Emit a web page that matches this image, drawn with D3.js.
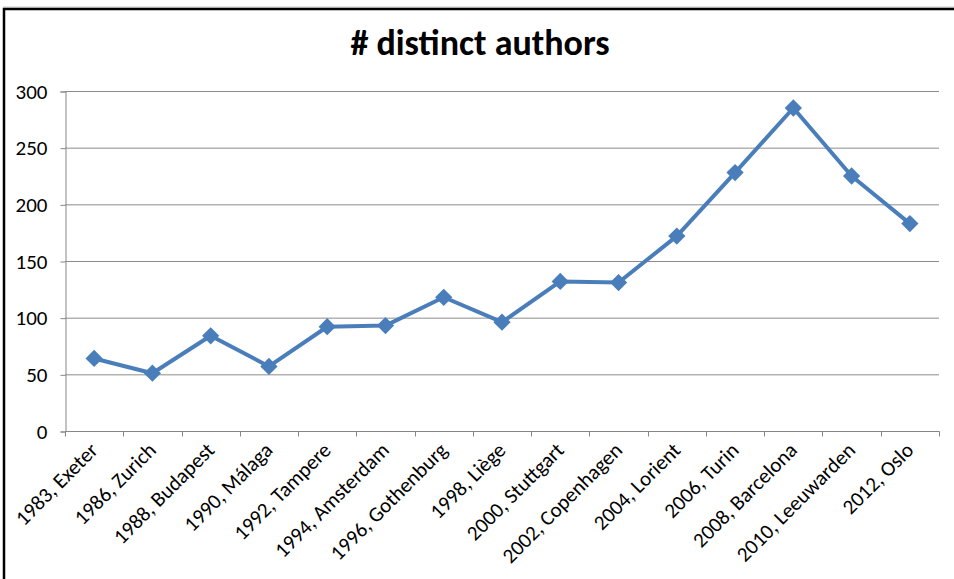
<!DOCTYPE html>
<html>
<head>
<meta charset="utf-8">
<script src="https://cdn.jsdelivr.net/npm/d3@7"></script>
<style>
  body { margin: 0; background: #fff; }
  text { font-family: Carlito, Lato, "Open Sans", sans-serif; fill: #000; }
  .grid line { stroke: #8c8c8c; stroke-width: 1; }
  .axis path, .axis line { stroke: #868686; }
</style>
</head>
<body>
<div id="chart"></div>
<script>
  // data
  var labels = ["1983, Exeter", "1986, Zurich", "1988, Budapest", "1990, Málaga",
    "1992, Tampere", "1994, Amsterdam", "1996, Gothenburg", "1998, Liège",
    "2000, Stuttgart", "2002, Copenhagen", "2004, Lorient", "2006, Turin",
    "2008, Barcelona", "2010, Leeuwarden", "2012, Oslo"];
  var authors = [64, 51, 84, 57, 92, 93, 118, 96, 132, 131, 172, 228, 285, 225, 183];
  var yTicks = [0, 50, 100, 150, 200, 250, 300];

  var W = 954, H = 579;
  var margin = {top: 91, left: 65, right: 15, bottom: 148};
  var width = W - margin.left - margin.right,
      height = H - margin.top - margin.bottom;

  var svg = d3.select("#chart").append("svg")
    .attr("width", W).attr("height", H);

  // chart frame
  svg.append("line").attr("x1", 3).attr("x2", W).attr("y1", 7).attr("y2", 7)
    .attr("stroke", "#c8c8c8").attr("stroke-width", 1);
  svg.append("path")
    .attr("d", "M4," + H + "V9H" + W)
    .attr("fill", "none").attr("stroke", "#000").attr("stroke-width", 2.5);

  svg.append("text")
    .attr("x", 480).attr("y", 55)
    .attr("text-anchor", "middle")
    .style("font-size", "36px").style("font-weight", "bold")
    .text("# distinct authors");

  var g = svg.append("g")
    .attr("transform", "translate(" + margin.left + "," + margin.top + ")");

  var x = d3.scaleBand().domain(labels).range([0, width]);
  var y = d3.scaleLinear().domain([0, 300]).range([height, 0]);

  // gridlines
  g.append("g").attr("class", "grid")
    .selectAll("line")
    .data(yTicks.slice(1))
    .enter().append("line")
    .attr("x1", 0).attr("x2", width)
    .attr("y1", function(d) { return y(d) + 0.5; })
    .attr("y2", function(d) { return y(d) + 0.5; });

  // y axis
  var yAxis = g.append("g").attr("class", "axis")
    .attr("transform", "translate(0.5,0.5)")
    .call(d3.axisLeft(y).tickValues(yTicks).tickSize(5).tickPadding(13));
  yAxis.selectAll("text").style("font-size", "21px");

  // x axis, ticks at band edges
  var xg = g.append("g").attr("class", "axis")
    .attr("transform", "translate(0," + (height + 0.5) + ")");
  xg.append("line").attr("x1", 0).attr("x2", width + 0.5)
    .attr("stroke", "#868686");
  xg.selectAll(".tk")
    .data(labels.concat(["end"]))
    .enter().append("line")
    .attr("class", "tk")
    .attr("x1", function(d, i) { return Math.round(i * x.step()) + 0.5; })
    .attr("x2", function(d, i) { return Math.round(i * x.step()) + 0.5; })
    .attr("y1", 0).attr("y2", 5)
    .attr("stroke", "#868686");
  xg.selectAll("text")
    .data(labels)
    .enter().append("text")
    .attr("text-anchor", "end")
    .attr("transform", function(d) {
      var cx = x(d) + x.bandwidth() / 2 + 5;
      return "translate(" + cx + ",20) rotate(-45)";
    })
    .style("font-size", "21px")
    .text(function(d) { return d; });

  // line
  var line = d3.line()
    .x(function(d, i) { return x(labels[i]) + x.bandwidth() / 2; })
    .y(function(d) { return y(d); });

  g.append("path")
    .datum(authors)
    .attr("fill", "none")
    .attr("stroke", "#4a7ebb")
    .attr("stroke-width", 4)
    .attr("stroke-linejoin", "round")
    .attr("d", line);

  g.selectAll(".pt")
    .data(authors)
    .enter().append("path")
    .attr("class", "pt")
    .attr("d", d3.symbol().type(d3.symbolDiamond2).size(190))
    .attr("transform", function(d, i) {
      return "translate(" + (x(labels[i]) + x.bandwidth() / 2) + "," + y(d) + ")";
    })
    .attr("fill", "#4a7ebb");
</script>
</body>
</html>
